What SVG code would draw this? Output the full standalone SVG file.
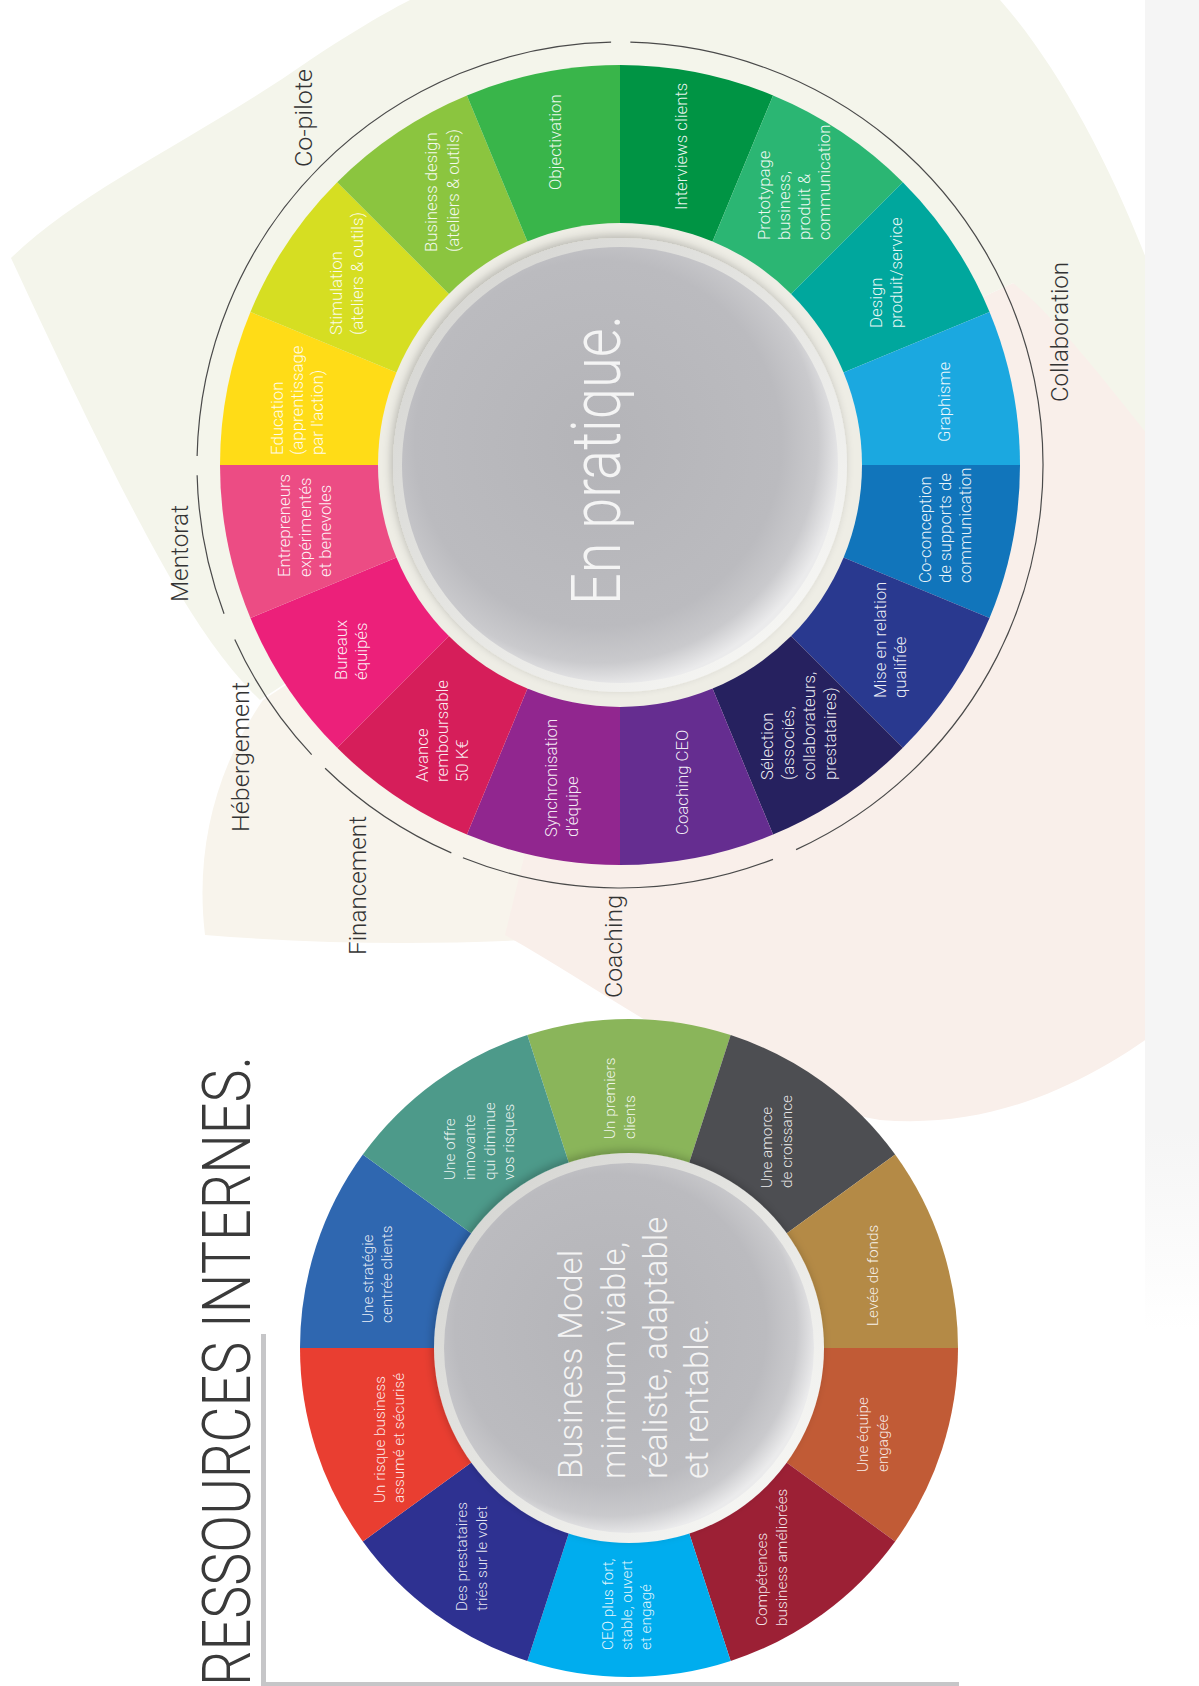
<svg xmlns="http://www.w3.org/2000/svg" width="1199" height="1686" viewBox="0 0 1199 1686">
<style>
.seg{font-family:Roboto,'Liberation Sans',Arial,sans-serif;font-weight:300;font-size:16.8px;fill:#ffffff;fill-opacity:.92}
.seg2{font-family:Roboto,'Liberation Sans',Arial,sans-serif;font-weight:300;font-size:15.3px;fill:#ffffff;fill-opacity:.9}
.ring{font-family:Roboto,'Liberation Sans',sans-serif;font-weight:300;font-size:24px;fill:#333333}
.big{font-family:Roboto,'Liberation Sans',sans-serif;font-weight:300;fill:#f4f4f4}
.arc{fill:none;stroke:#4a4a4a;stroke-width:1.2}
</style>
<defs>
<linearGradient id="rimT" x1="0" y1="0" x2="1" y2="1">
<stop offset="0" stop-color="#d2d2cf"/><stop offset="0.5" stop-color="#e6e6e3"/><stop offset="1" stop-color="#fbfbf9"/>
</linearGradient>
<radialGradient id="discT" cx="0.45" cy="0.45" r="0.56">
<stop offset="0" stop-color="#b4b4b8"/><stop offset="0.75" stop-color="#bbbbbf"/><stop offset="0.9" stop-color="#cacacd"/><stop offset="1" stop-color="#ebebec"/>
</radialGradient>
<linearGradient id="strip" x1="0" y1="0" x2="0" y2="1">
<stop offset="0" stop-color="#f5f5f5"/><stop offset="0.85" stop-color="#f5f5f5"/><stop offset="1" stop-color="#ffffff"/>
</linearGradient>
<filter id="sh" x="-20%" y="-20%" width="140%" height="140%">
<feDropShadow dx="-2" dy="-3" stdDeviation="4" flood-color="#000" flood-opacity="0.22"/>
</filter>
</defs>
<rect width="1199" height="1686" fill="#ffffff"/>
<g id="background">
<path d="M263,700 C215,770 195,850 205,935 C330,945 450,945 560,938 L620,465 Z" fill="#f8f4ec"/>
<path d="M1013,283 C1100,330 1199,420 1199,520 L1199,1000 C1100,1080 1000,1130 880,1120 C750,1100 620,1000 505,935 L620,465 Z" fill="#f9efea"/>
<path d="M11,258 C80,190 200,137 310,60 C340,40 380,15 410,0 L1000,0 C1080,90 1160,260 1199,430 L1199,500 C1120,400 1060,320 1013,283 L620,465 L260,700 C200,640 150,557 11,258 Z" fill="#f4f5eb"/>
<rect x="1145" y="0" width="54" height="1330" fill="url(#strip)"/>
</g>
<g id="connectors">
<path id="arc-copilote" class="arc" d="M197.1,456.1 A423,423 0 0 1 611.1,42.1"/>
<path id="arc-mentorat" class="arc" d="M224.05,613.83 A423,423 0 0 1 197.13,475.33"/>
<path id="arc-hebergement" class="arc" d="M311.65,754.56 A423,423 0 0 1 234.78,639.41"/>
<path id="arc-financement" class="arc" d="M451.33,852.92 A423,423 0 0 1 325.1,768.25"/>
<path id="arc-coaching" class="arc" d="M772.97,859.37 A423,423 0 0 1 462.91,857.75"/>
<path id="arc-collaboration" class="arc" d="M630.33,42.13 A423,423 0 0 1 796.09,849.61"/>
</g>
<g id="ring-labels">
<g id="lbl-copilote"><text class="ring" transform="translate(312,167) rotate(-90)" textLength="98" lengthAdjust="spacingAndGlyphs">Co-pilote</text></g>
<g id="lbl-mentorat"><text class="ring" transform="translate(188,602) rotate(-90)" textLength="97" lengthAdjust="spacingAndGlyphs">Mentorat</text></g>
<g id="lbl-hebergement"><text class="ring" transform="translate(249,832) rotate(-90)" textLength="150" lengthAdjust="spacingAndGlyphs">Hébergement</text></g>
<g id="lbl-financement"><text class="ring" transform="translate(366,955) rotate(-90)" textLength="139" lengthAdjust="spacingAndGlyphs">Financement</text></g>
<g id="lbl-coaching"><text class="ring" transform="translate(622,998) rotate(-90)" textLength="103" lengthAdjust="spacingAndGlyphs">Coaching</text></g>
<g id="lbl-collaboration"><text class="ring" transform="translate(1068,402) rotate(-90)" textLength="140" lengthAdjust="spacingAndGlyphs">Collaboration</text></g>
</g>
<g id="wheel-top">
<g id="s-interviews"><path d="M620,465 L620,65 A400,400 0 0 1 773.07,95.45 Z" fill="#009444"/>
<text class="seg" transform="translate(687,210) rotate(-90)">Interviews clients</text></g>
<g id="s-prototypage"><path d="M620,465 L773.07,95.45 A400,400 0 0 1 902.84,182.16 Z" fill="#2bb673"/>
<text class="seg" transform="translate(770,240) rotate(-90)"><tspan x="0" y="0">Prototypage</tspan><tspan x="0" dy="20">business,</tspan><tspan x="0" dy="20">produit &amp;</tspan><tspan x="0" dy="20">communication</tspan></text></g>
<g id="s-design"><path d="M620,465 L902.84,182.16 A400,400 0 0 1 989.55,311.93 Z" fill="#00a79d"/>
<text class="seg" transform="translate(882,328) rotate(-90)"><tspan x="0" y="0">Design</tspan><tspan x="0" dy="20">produit/service</tspan></text></g>
<g id="s-graphisme"><path d="M620,465 L989.55,311.93 A400,400 0 0 1 1020,465 Z" fill="#1ba8e0"/>
<text class="seg" transform="translate(950,442) rotate(-90)">Graphisme</text></g>
<g id="s-coconception"><path d="M620,465 L1020,465 A400,400 0 0 1 989.55,618.07 Z" fill="#1175bb"/>
<text class="seg" transform="translate(931,583) rotate(-90)"><tspan x="0" y="0">Co-conception</tspan><tspan x="0" dy="20">de supports de</tspan><tspan x="0" dy="20">communication</tspan></text></g>
<g id="s-miseenrelation"><path d="M620,465 L989.55,618.07 A400,400 0 0 1 902.84,747.84 Z" fill="#29398f"/>
<text class="seg" transform="translate(886,698) rotate(-90)"><tspan x="0" y="0">Mise en relation</tspan><tspan x="0" dy="20">qualifiée</tspan></text></g>
<g id="s-selection"><path d="M620,465 L902.84,747.84 A400,400 0 0 1 773.07,834.55 Z" fill="#26215f"/>
<text class="seg" transform="translate(773,780) rotate(-90)"><tspan x="0" y="0">Sélection</tspan><tspan x="0" dy="21">(associés,</tspan><tspan x="0" dy="21">collaborateurs,</tspan><tspan x="0" dy="21">prestataires)</tspan></text></g>
<g id="s-coachingceo"><path d="M620,465 L773.07,834.55 A400,400 0 0 1 620,865 Z" fill="#652d90"/>
<text class="seg" transform="translate(688,835) rotate(-90)">Coaching CEO</text></g>
<g id="s-synchronisation"><path d="M620,465 L620,865 A400,400 0 0 1 466.93,834.55 Z" fill="#91268f"/>
<text class="seg" transform="translate(557,837) rotate(-90)"><tspan x="0" y="0">Synchronisation</tspan><tspan x="0" dy="21">d'équipe</tspan></text></g>
<g id="s-avance"><path d="M620,465 L466.93,834.55 A400,400 0 0 1 337.16,747.84 Z" fill="#d61e5a"/>
<text class="seg" transform="translate(428,782) rotate(-90)"><tspan x="0" y="0">Avance</tspan><tspan x="0" dy="20">remboursable</tspan><tspan x="0" dy="20">50 K€</tspan></text></g>
<g id="s-bureaux"><path d="M620,465 L337.16,747.84 A400,400 0 0 1 250.45,618.07 Z" fill="#ec207a"/>
<text class="seg" transform="translate(347,680) rotate(-90)"><tspan x="0" y="0">Bureaux</tspan><tspan x="0" dy="20">équipés</tspan></text></g>
<g id="s-entrepreneurs"><path d="M620,465 L250.45,618.07 A400,400 0 0 1 220,465 Z" fill="#ec4c84"/>
<text class="seg" transform="translate(290,577) rotate(-90)"><tspan x="0" y="0">Entrepreneurs</tspan><tspan x="0" dy="21">expérimentés</tspan><tspan x="0" dy="20">et benevoles</tspan></text></g>
<g id="s-education"><path d="M620,465 L220,465 A400,400 0 0 1 250.45,311.93 Z" fill="#ffdc17"/>
<text class="seg" transform="translate(283,455) rotate(-90)"><tspan x="0" y="0">Education</tspan><tspan x="0" dy="20">(apprentissage</tspan><tspan x="0" dy="20">par l'action)</tspan></text></g>
<g id="s-stimulation"><path d="M620,465 L250.45,311.93 A400,400 0 0 1 337.16,182.16 Z" fill="#d6de22"/>
<text class="seg" transform="translate(342,335) rotate(-90)"><tspan x="0" y="0">Stimulation</tspan><tspan x="0" dy="21">(ateliers &amp; outils)</tspan></text></g>
<g id="s-businessdesign"><path d="M620,465 L337.16,182.16 A400,400 0 0 1 466.93,95.45 Z" fill="#8bc53f"/>
<text class="seg" transform="translate(437,252) rotate(-90)"><tspan x="0" y="0">Business design</tspan><tspan x="0" dy="22">(ateliers &amp; outils)</tspan></text></g>
<g id="s-objectivation"><path d="M620,465 L466.93,95.45 A400,400 0 0 1 620,65 Z" fill="#39b54a"/>
<text class="seg" transform="translate(561,190) rotate(-90)">Objectivation</text></g>
<g id="center-top">
<circle cx="620" cy="465" r="242" fill="#eeede5"/>
<circle cx="620" cy="465" r="227" fill="url(#rimT)" filter="url(#sh)"/>
<circle cx="620" cy="465" r="218" fill="url(#discT)"/>
<text class="big" transform="translate(620,605) rotate(-90)" font-size="68" textLength="290" lengthAdjust="spacingAndGlyphs">En pratique.</text>
</g>
</g>
<g id="wheel-bottom">
<g id="b-premiers"><path d="M629,1348 L527.33,1035.1 A329,329 0 0 1 730.67,1035.1 Z" fill="#8ab55a"/>
<text class="seg2" transform="translate(615,1139) rotate(-90)"><tspan x="0" y="0">Un premiers</tspan><tspan x="0" dy="20">clients</tspan></text></g>
<g id="b-amorce"><path d="M629,1348 L730.67,1035.1 A329,329 0 0 1 895.17,1154.62 Z" fill="#4d4e52"/>
<text class="seg2" transform="translate(772,1188) rotate(-90)"><tspan x="0" y="0">Une amorce</tspan><tspan x="0" dy="20">de croissance</tspan></text></g>
<g id="b-levee"><path d="M629,1348 L895.17,1154.62 A329,329 0 0 1 958,1348 Z" fill="#b48a46"/>
<text class="seg2" transform="translate(878,1326) rotate(-90)">Levée de fonds</text></g>
<g id="b-equipe"><path d="M629,1348 L958,1348 A329,329 0 0 1 895.17,1541.38 Z" fill="#c15b36"/>
<text class="seg2" transform="translate(868,1472) rotate(-90)"><tspan x="0" y="0">Une équipe</tspan><tspan x="0" dy="20">engagée</tspan></text></g>
<g id="b-competences"><path d="M629,1348 L895.17,1541.38 A329,329 0 0 1 730.67,1660.9 Z" fill="#9c2035"/>
<text class="seg2" transform="translate(767,1626) rotate(-90)"><tspan x="0" y="0">Compétences</tspan><tspan x="0" dy="20">business améliorées</tspan></text></g>
<g id="b-ceo"><path d="M629,1348 L730.67,1660.9 A329,329 0 0 1 527.33,1660.9 Z" fill="#00adee"/>
<text class="seg2" transform="translate(613,1650) rotate(-90)"><tspan x="0" y="0">CEO plus fort,</tspan><tspan x="0" dy="19">stable, ouvert</tspan><tspan x="0" dy="19">et engagé</tspan></text></g>
<g id="b-prestataires"><path d="M629,1348 L527.33,1660.9 A329,329 0 0 1 362.83,1541.38 Z" fill="#2e3191"/>
<text class="seg2" transform="translate(467,1611) rotate(-90)"><tspan x="0" y="0">Des prestataires</tspan><tspan x="0" dy="20">triés sur le volet</tspan></text></g>
<g id="b-risque"><path d="M629,1348 L362.83,1541.38 A329,329 0 0 1 300,1348 Z" fill="#e93e31"/>
<text class="seg2" transform="translate(385,1503) rotate(-90)"><tspan x="0" y="0">Un risque business</tspan><tspan x="0" dy="19">assumé et sécurisé</tspan></text></g>
<g id="b-strategie"><path d="M629,1348 L300,1348 A329,329 0 0 1 362.83,1154.62 Z" fill="#2f67b0"/>
<text class="seg2" transform="translate(373,1323) rotate(-90)"><tspan x="0" y="0">Une stratégie</tspan><tspan x="0" dy="19">centrée clients</tspan></text></g>
<g id="b-offre"><path d="M629,1348 L362.83,1154.62 A329,329 0 0 1 527.33,1035.1 Z" fill="#4d9a8a"/>
<text class="seg2" transform="translate(455,1180) rotate(-90)"><tspan x="0" y="0">Une offre</tspan><tspan x="0" dy="20">innovante</tspan><tspan x="0" dy="20">qui diminue</tspan><tspan x="0" dy="19">vos risques</tspan></text></g>
<g id="center-bottom">
<circle cx="629" cy="1348" r="195" fill="url(#rimT)" filter="url(#sh)"/>
<circle cx="629" cy="1348" r="185" fill="url(#discT)"/>
<text class="big" transform="translate(582,1479) rotate(-90)" font-size="33"><tspan x="0" y="0">Business Model</tspan><tspan x="0" dy="43">minimum viable,</tspan><tspan x="0" dy="42">réaliste, adaptable</tspan><tspan x="0" dy="41">et rentable.</tspan></text>
</g>
</g>
<g id="title">
<text class="big" transform="translate(250,1686) rotate(-90)" font-size="67" style="fill:#3a3a3a" textLength="630" lengthAdjust="spacingAndGlyphs">RESSOURCES INTERNES.</text>
<rect x="261" y="1334" width="5" height="352" fill="#c6c6c8"/>
<rect x="261" y="1682" width="698" height="4" fill="#c6c6c8"/>
</g>
</svg>
